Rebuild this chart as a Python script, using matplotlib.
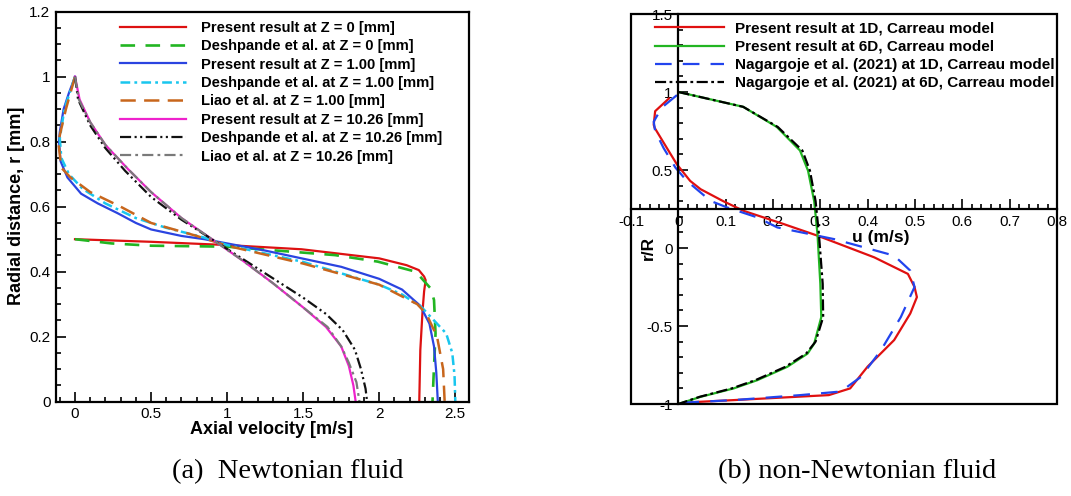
import matplotlib
matplotlib.use("Agg")
import matplotlib.pyplot as plt
from matplotlib.patches import Rectangle
from matplotlib.ticker import MultipleLocator, FixedLocator

plt.rcParams['font.family'] = ['Liberation Sans', 'DejaVu Sans']
plt.rcParams['lines.scale_dashes'] = False

# ---------------- Newtonian fluid: axial velocity profiles ----------------
# Present result, Z = 0 mm
r_z0_present = [0.5, 0.492, 0.482, 0.469, 0.441, 0.42, 0.405, 0.385, 0.374, 0.34, 0.282, 0.159, 0.0]
u_z0_present = [0.0, 0.5, 1.0, 1.49, 2.0, 2.18, 2.26, 2.295, 2.305, 2.295, 2.285, 2.27, 2.263]
# Deshpande et al., Z = 0 mm
r_z0_desh = [0.5, 0.487, 0.48, 0.477, 0.451, 0.431, 0.40, 0.349, 0.313, 0.21, 0.108, 0.0]
u_z0_desh = [0.0, 0.24, 0.5, 1.0, 1.71, 1.99, 2.24, 2.337, 2.36, 2.37, 2.36, 2.35]
# Present result, Z = 1.00 mm
r_z1_present = [1.0, 0.95, 0.9, 0.83, 0.8, 0.74, 0.69, 0.64, 0.61, 0.58, 0.55, 0.53, 0.51, 0.5,
                0.487, 0.465, 0.44, 0.415, 0.378, 0.345, 0.295, 0.24, 0.17, 0.09, 0.0]
u_z1_present = [0.0, -0.04, -0.075, -0.1, -0.105, -0.095, -0.05, 0.04, 0.15, 0.28, 0.4, 0.5, 0.7, 0.85,
                1.0, 1.25, 1.5, 1.75, 2.0, 2.15, 2.27, 2.33, 2.36, 2.375, 2.385]
# Deshpande et al., Z = 1.00 mm
r_z1_desh = [1.0, 0.9, 0.81, 0.75, 0.7, 0.655, 0.61, 0.565, 0.535, 0.505,
             0.482, 0.43, 0.36, 0.33, 0.29, 0.255, 0.21, 0.15, 0.08, 0.0]
u_z1_desh = [0.0, -0.07, -0.1, -0.09, -0.04, 0.05, 0.2, 0.4, 0.6, 0.85,
             1.0, 1.5, 2.0, 2.15, 2.28, 2.35, 2.44, 2.48, 2.495, 2.5]
# Liao et al., Z = 1.00 mm
r_z1_liao = [1.0, 0.9, 0.8, 0.72, 0.69, 0.645, 0.6, 0.55, 0.51,
             0.48, 0.425, 0.36, 0.3, 0.27, 0.2, 0.1, 0.0]
u_z1_liao = [0.0, -0.06, -0.11, -0.09, -0.03, 0.1, 0.3, 0.5, 0.8,
             1.0, 1.5, 2.0, 2.25, 2.31, 2.38, 2.42, 2.43]
# Present result, Z = 10.26 mm
r_z10_present = [1.0, 0.93, 0.86, 0.79, 0.715, 0.645, 0.565, 0.5, 0.435, 0.365, 0.29, 0.23, 0.17, 0.11, 0.05, 0.0]
u_z10_present = [0.0, 0.03, 0.1, 0.2, 0.35, 0.5, 0.7, 0.9, 1.1, 1.3, 1.5, 1.65, 1.75, 1.8, 1.83, 1.845]
# Deshpande et al., Z = 10.26 mm
r_z10_desh = [1.0, 0.93, 0.85, 0.78, 0.71, 0.63, 0.56, 0.5, 0.44, 0.38, 0.32, 0.27, 0.22, 0.16, 0.1, 0.04, 0.0]
u_z10_desh = [0.0, 0.02, 0.1, 0.2, 0.33, 0.5, 0.7, 0.9, 1.1, 1.3, 1.5, 1.65, 1.76, 1.84, 1.88, 1.91, 1.92]
# Liao et al., Z = 10.26 mm
r_z10_liao = [1.0, 0.93, 0.86, 0.79, 0.715, 0.645, 0.565, 0.5, 0.435, 0.365, 0.29, 0.23, 0.17, 0.12, 0.06, 0.0]
u_z10_liao = [0.0, 0.025, 0.1, 0.2, 0.35, 0.5, 0.7, 0.9, 1.1, 1.3, 1.5, 1.66, 1.75, 1.8, 1.85, 1.87]

labels_a = ["Present result at Z = 0 [mm]",
            "Deshpande et al. at Z = 0 [mm]",
            "Present result at Z = 1.00 [mm]",
            "Deshpande et al. at Z = 1.00 [mm]",
            "Liao et al. at Z = 1.00 [mm]",
            "Present result at Z = 10.26 [mm]",
            "Deshpande et al. at Z = 10.26 [mm]",
            "Liao et al. at Z = 10.26 [mm]"]
xticks_a = [0, 0.5, 1, 1.5, 2, 2.5]
xticklabels_a = ['0', '0.5', '1', '1.5', '2', '2.5']
yticks_a = [0, 0.2, 0.4, 0.6, 0.8, 1.0, 1.2]
yticklabels_a = ['0', '0.2', '0.4', '0.6', '0.8', '1', '1.2']

# ---------------- non-Newtonian fluid (Carreau model) ----------------
# Present result at 1D
rR_1d_present = [0.958, 0.877, 0.79, 0.77, 0.64, 0.536, 0.43, 0.377, 0.30, 0.238, 0.153, 0.079,
                 -0.06, -0.166, -0.25, -0.315, -0.42, -0.59, -0.76, -0.90, -0.943, -0.975, -0.99, -1.0]
u_1d_present = [-0.02, -0.049, -0.052, -0.05, -0.024, -0.003, 0.025, 0.047, 0.095, 0.138, 0.223, 0.294,
                0.414, 0.485, 0.499, 0.504, 0.49, 0.456, 0.40, 0.363, 0.318, 0.117, 0.018, 0.0]
# Present result at 6D
rR_6d_present = [1.0, 0.905, 0.776, 0.625, 0.496, 0.30, 0.089, -0.23, -0.443, -0.613, -0.677,
                 -0.762, -0.847, -0.9, -0.954, -1.0]
u_6d_present = [0.0, 0.137, 0.208, 0.257, 0.274, 0.287, 0.294, 0.30, 0.302, 0.287, 0.273,
                0.23, 0.167, 0.117, 0.047, 0.0]
# Nagargoje et al. (2021) at 1D
rR_1d_nag = [0.98, 0.9, 0.81, 0.75, 0.64, 0.515, 0.43, 0.302, 0.26, 0.196, 0.132, 0.057,
             -0.049, -0.145, -0.25, -0.443, -0.656, -0.826, -0.92, -0.943, -0.975, -0.99, -1.0]
u_1d_nag = [-0.003, -0.035, -0.052, -0.049, -0.031, -0.006, 0.018, 0.068, 0.103, 0.167, 0.209, 0.329,
            0.456, 0.49, 0.499, 0.47, 0.428, 0.386, 0.343, 0.258, 0.117, 0.018, 0.0]
# Nagargoje et al. (2021) at 6D
rR_6d_nag = [1.0, 0.905, 0.776, 0.625, 0.496, 0.30, 0.089, -0.23, -0.443, -0.6, -0.677,
             -0.762, -0.847, -0.9, -0.954, -1.0]
u_6d_nag = [0.0, 0.137, 0.21, 0.262, 0.278, 0.29, 0.297, 0.305, 0.306, 0.29, 0.27,
            0.226, 0.163, 0.113, 0.045, 0.0]

labels_b = ["Present result at 1D, Carreau model",
            "Present result at 6D, Carreau model",
            "Nagargoje et al. (2021) at 1D, Carreau model",
            "Nagargoje et al. (2021) at 6D, Carreau model"]
xticks_b = [-0.1, 0, 0.1, 0.2, 0.3, 0.4, 0.5, 0.6, 0.7, 0.8]
xticklabels_b = ['-0.1', '0', '0.1', '0.2', '0.3', '0.4', '0.5', '0.6', '0.7', '0.8']
yticks_b = [-1, -0.5, 0, 0.5, 1, 1.5]
yticklabels_b = ['-1', '-0.5', '0', '0.5', '1', '1.5']

W, H = 1071, 496
fig = plt.figure(figsize=(W / 100, H / 100), dpi=100)

def fbox(x0, y0, x1, y1):
    """Pixel box (top-left origin) to figure-fraction rect."""
    return [x0 / W, 1 - y1 / H, (x1 - x0) / W, (y1 - y0) / H]

LW = 1.6
TICK_FS = 11
LEG_PROP_A = dict(family='Liberation Sans', weight='bold', size=10.6)
LEG_PROP_B = dict(family='Liberation Sans', weight='bold', size=11)

# ---------------- panel (a) ----------------
ax1 = fig.add_axes(fbox(56, 11.7, 469, 401.7))
ax1.plot(u_z0_present, r_z0_present, color='#dd1111', lw=LW, ls='-', label=labels_a[0])
ax1.plot(u_z0_desh, r_z0_desh, color='#22b522', lw=LW + 0.3, ls=(0, (10.5, 7.5)), label=labels_a[1])
ax1.plot(u_z1_present, r_z1_present, color='#2b44e0', lw=LW, ls='-', label=labels_a[2])
ax1.plot(u_z1_desh, r_z1_desh, color='#19c6ee', lw=LW + 0.2, ls=(0, (7, 3, 2, 3)), label=labels_a[3])
ax1.plot(u_z1_liao, r_z1_liao, color='#c8661c', lw=LW + 0.2, ls=(0, (11, 6)), label=labels_a[4])
ax1.plot(u_z10_present, r_z10_present, color='#ee22cc', lw=LW, ls='-', label=labels_a[5])
ax1.plot(u_z10_desh, r_z10_desh, color='#111111', lw=LW, ls=(0, (8, 2.5, 1.5, 2.5, 1.5, 2.5)), label=labels_a[6])
ax1.plot(u_z10_liao, r_z10_liao, color='#7a7a7a', lw=LW, ls=(0, (8, 3, 2, 3)), label=labels_a[7])

ax1.set_xlim(-0.125, 2.59)
ax1.set_ylim(0, 1.2)
ax1.xaxis.set_major_locator(FixedLocator(xticks_a))
ax1.xaxis.set_minor_locator(MultipleLocator(0.1))
ax1.yaxis.set_major_locator(FixedLocator(yticks_a))
ax1.yaxis.set_minor_locator(MultipleLocator(0.05))
ax1.set_xticklabels(xticklabels_a)
ax1.set_yticklabels(yticklabels_a)
ax1.tick_params(which='both', direction='in', top=False, right=False, width=1.2,
                labelsize=TICK_FS, pad=4)
ax1.tick_params(which='major', length=7.5)
ax1.tick_params(which='minor', length=3.6)
for s in ax1.spines.values():
    s.set_linewidth(1.6)

ax1.legend(loc='upper left', bbox_to_anchor=(0.155, 0.977), frameon=False,
           prop=LEG_PROP_A, handlelength=4.5, handletextpad=1.0, labelspacing=0.30,
           borderpad=0, borderaxespad=0)

fig.text(17 / W, 1 - 206 / H, 'Radial distance, r [mm]', rotation=90, ha='center', va='center',
         fontsize=13, fontweight='bold')
fig.text(272 / W, 1 - 429 / H, 'Axial velocity [m/s]', ha='center', va='center',
         fontsize=13, fontweight='bold')

# ---------------- panel (b) ----------------
ax2 = fig.add_axes(fbox(631, 14, 1057, 404))
ax2.plot(u_1d_present, rR_1d_present, color='#e01010', lw=LW, ls='-', label=labels_b[0])
ax2.plot(u_6d_present, rR_6d_present, color='#22b522', lw=LW, ls='-', label=labels_b[1])
ax2.plot(u_1d_nag, rR_1d_nag, color='#2244ee', lw=LW, ls=(0, (12, 8)), label=labels_b[2])
ax2.plot(u_6d_nag, rR_6d_nag, color='#000000', lw=LW, ls=(0, (8, 2.5, 2, 2.5)), label=labels_b[3])

ax2.set_xlim(-0.1, 0.8)
ax2.set_ylim(-1, 1.5)
ax2.spines['left'].set_position(('data', 0))
ax2.spines['bottom'].set_position(('data', 0.25))
ax2.spines['top'].set_visible(False)
ax2.spines['right'].set_visible(False)
for s in ('left', 'bottom'):
    ax2.spines[s].set_linewidth(1.6)
ax2.add_patch(Rectangle((0, 0), 1, 1, transform=ax2.transAxes, fill=False, lw=1.6,
                        edgecolor='black', clip_on=False, zorder=3))
ax2.xaxis.set_major_locator(FixedLocator(xticks_b))
ax2.xaxis.set_minor_locator(MultipleLocator(0.02))
ax2.yaxis.set_major_locator(FixedLocator(yticks_b))
ax2.yaxis.set_minor_locator(MultipleLocator(0.1))
ax2.set_xticklabels(xticklabels_b)
ax2.set_yticklabels(yticklabels_b)
ax2.tick_params(which='both', direction='in', top=False, right=False, width=1.2,
                labelsize=TICK_FS, pad=4)
ax2.tick_params(which='major', length=7.5)
ax2.tick_params(which='minor', length=3.6)

ax2.legend(loc='upper left', bbox_to_anchor=(0.056, 0.98), frameon=False,
           prop=LEG_PROP_B, handlelength=4.5, handletextpad=0.75, labelspacing=0.27,
           borderpad=0, borderaxespad=0)

ax2.text(0.427, 0.07, 'u (m/s)', ha='center', va='center', fontsize=12.5, fontweight='bold')
ax2.text(-0.063, 0.0, 'r/R', rotation=90, ha='center', va='center', fontsize=12.5, fontweight='bold')

# ---------------- captions ----------------
fig.text(288 / W, 1 - 472 / H, '(a)  Newtonian fluid', ha='center', va='center',
         fontsize=20.5, family='Liberation Serif')
fig.text(857 / W, 1 - 472 / H, '(b) non-Newtonian fluid', ha='center', va='center',
         fontsize=20.5, family='Liberation Serif')

fig.savefig('out.png', dpi=100)
